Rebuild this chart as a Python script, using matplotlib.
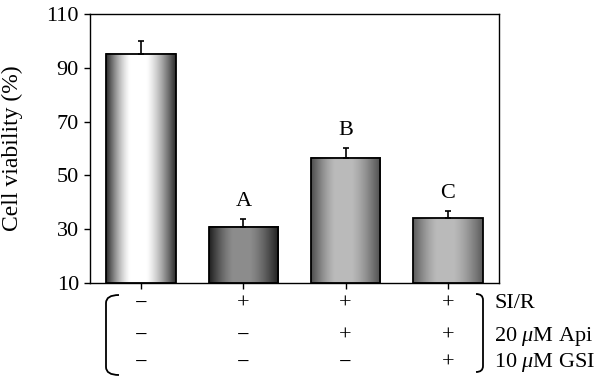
import numpy as np
import matplotlib
matplotlib.use("Agg")
import matplotlib.pyplot as plt
from matplotlib.path import Path
from matplotlib.patches import PathPatch
from matplotlib.transforms import blended_transform_factory

plt.rcParams['font.family'] = ['Liberation Serif', 'DejaVu Serif']
plt.rcParams['mathtext.fontset'] = 'custom'
plt.rcParams['mathtext.rm'] = 'Liberation Serif'
plt.rcParams['mathtext.it'] = 'Liberation Serif:italic'

# data
groups = [0, 1, 2, 3]
viability = [95.2, 30.9, 56.5, 34.0]
errors = [4.9, 2.8, 3.5, 2.7]
letters = ['', 'A', 'B', 'C']
row_names = ['SI/R', '20 $\\mu$M Api', '10 $\\mu$M GSI']
si_r = ['−', '+', '+', '+']
api = ['−', '−', '+', '+']
gsi = ['−', '−', '−', '+']

# gray shading of each bar: (edge, highlight)
shades = [(0.17, 1.0), (0.12, 0.55), (0.30, 0.73), (0.36, 0.73)]

W, H = 600, 379
fs = 16
fig = plt.figure(figsize=(6, 3.79), dpi=100)
ax = fig.add_axes([90 / W, 1 - 283 / H, 409 / W, 269 / H])

width = 0.68
ymin, ymax = 10, 110
t = np.linspace(0, 1, 256)
for x, v, (lo, hi) in zip(groups, viability, shades):
    # cylinder-like shading, highlight a bit left of centre
    prof = np.where(t < 0.45, np.sin(np.pi / 2 * t / 0.45), np.cos(np.pi / 2 * (t - 0.45) / 0.55))
    prof = np.clip(prof * 1.08, 0, 1)
    g = lo + (hi - lo) * prof
    img = np.dstack([g, g, g]).repeat(2, axis=0)
    ax.imshow(img, extent=[x - width / 2, x + width / 2, ymin, v], aspect='auto',
              interpolation='bilinear', zorder=2)
    ax.bar(x, v - ymin, width, bottom=ymin, facecolor='none', edgecolor='black',
           linewidth=1.3, zorder=3)

ax.errorbar(groups, viability, yerr=[[0] * 4, errors], fmt='none', ecolor='black',
            elinewidth=1.2, capsize=2.5, capthick=1.2, zorder=4)

for x, v, e, s in zip(groups, viability, errors, letters):
    if s:
        ax.text(x, v + e + 3.0, s, ha='center', va='bottom', fontsize=fs)

ax.set_xlim(-0.5, 3.5)
ax.set_ylim(ymin, ymax)
ax.set_yticks([10, 30, 50, 70, 90, 110])
ax.set_xticks(groups)
ax.set_xticklabels([])
ax.tick_params(axis='both', direction='out', length=4, width=1, labelsize=fs, pad=4)
for sp in ax.spines.values():
    sp.set_linewidth(1)
ax.set_ylabel('Cell viability (%)', fontsize=17)
ax.yaxis.set_label_coords(-0.165, 0.5)

# treatment table below the axis
tr = blended_transform_factory(ax.transData, fig.transFigure)
row_y = [1 - 304 / H, 1 - 336 / H, 1 - 363 / H]
for yy, row, name in zip(row_y, [si_r, api, gsi], row_names):
    for x, s in zip(groups, row):
        fig.text(x, yy, s, transform=tr, ha='center', va='center', fontsize=fs)
    fig.text(494 / W, yy, name, ha='left', va='center', fontsize=fs)


def px(x, y):
    return (x / W, 1 - y / H)


codes = [Path.MOVETO, Path.CURVE3, Path.CURVE3, Path.LINETO, Path.CURVE3, Path.CURVE3]
left = Path([px(119, 295), px(106, 295), px(106, 303), px(106, 367), px(106, 375), px(119, 375)], codes)
right = Path([px(476, 294), px(483, 294), px(483, 300), px(483, 366), px(483, 372), px(476, 372)], codes)
for p in (left, right):
    fig.patches.append(PathPatch(p, transform=fig.transFigure, facecolor='none',
                                 edgecolor='black', linewidth=1.3))

fig.savefig('out.png', dpi=100)
